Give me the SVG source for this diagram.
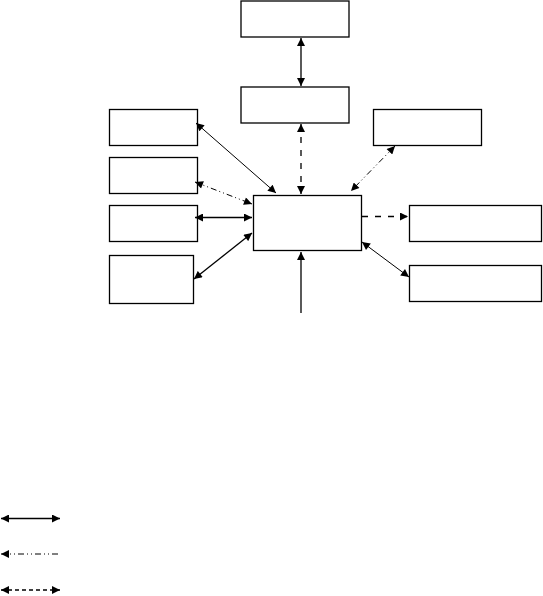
<svg xmlns="http://www.w3.org/2000/svg" width="543" height="596" viewBox="0 0 543 596">
<style>
.box{fill:#fff;stroke:#000;stroke-width:1.3}
.c{fill:none;stroke:#000;stroke-width:1}
.solid{stroke-width:1.3}
.dash{stroke-dasharray:6 7;stroke-width:1.3}
.dd{stroke-dasharray:6 3 1 3 1 3}
</style>
<defs>
<marker id="ah" viewBox="0 0 10 10" refX="10" refY="5" markerWidth="9" markerHeight="8" markerUnits="userSpaceOnUse" orient="auto-start-reverse">
<path d="M0,0 L10,5 L0,10 z" fill="#000"/>
</marker>
</defs>
<g id="n-top"><rect class="box" x="241" y="1" width="108" height="36"/></g>
<g id="n-second"><rect class="box" x="241" y="87" width="108" height="36"/></g>
<g id="n-left1"><rect class="box" x="109.5" y="109.5" width="88" height="36"/></g>
<g id="n-left2"><rect class="box" x="109.5" y="157.5" width="88" height="36"/></g>
<g id="n-left3"><rect class="box" x="109.5" y="205.5" width="88" height="36"/></g>
<g id="n-left4"><rect class="box" x="109.5" y="255.5" width="84" height="48"/></g>
<g id="n-center"><rect class="box" x="253.5" y="195.5" width="108" height="55"/></g>
<g id="n-right1"><rect class="box" x="373.5" y="109.5" width="108" height="36"/></g>
<g id="n-right2"><rect class="box" x="409.5" y="205.5" width="132" height="36"/></g>
<g id="n-right3"><rect class="box" x="409.5" y="265.5" width="132" height="36"/></g>
<g id="connectors">
<line class="c solid" x1="301" y1="38" x2="301" y2="86" marker-start="url(#ah)" marker-end="url(#ah)"/>
<line class="c dash" x1="301" y1="124" x2="301" y2="194" marker-start="url(#ah)" marker-end="url(#ah)"/>
<line class="c" x1="196" y1="123" x2="276" y2="193" marker-start="url(#ah)" marker-end="url(#ah)"/>
<line class="c dd" x1="195" y1="182" x2="252" y2="204" marker-start="url(#ah)" marker-end="url(#ah)"/>
<line class="c solid" x1="195" y1="217.5" x2="252" y2="217.5" marker-start="url(#ah)" marker-end="url(#ah)"/>
<line class="c solid" x1="194" y1="279" x2="252" y2="233" marker-start="url(#ah)" marker-end="url(#ah)"/>
<line class="c solid" x1="301" y1="313" x2="301" y2="252" marker-end="url(#ah)"/>
<line class="c dd" x1="395" y1="146" x2="351" y2="191" marker-start="url(#ah)" marker-end="url(#ah)"/>
<line class="c dash" x1="362" y1="216.5" x2="408" y2="216.5" marker-end="url(#ah)"/>
<line class="c" x1="362" y1="242" x2="409" y2="277" marker-start="url(#ah)" marker-end="url(#ah)"/>
<line class="c solid" x1="1" y1="518.5" x2="60" y2="518.5" marker-start="url(#ah)" marker-end="url(#ah)"/>
<line class="c dd" x1="1" y1="554" x2="61" y2="554" marker-start="url(#ah)"/>
<line class="c dash" x1="1" y1="590" x2="60" y2="590" style="stroke-dasharray:4 3" marker-start="url(#ah)" marker-end="url(#ah)"/>
</g>
</svg>
